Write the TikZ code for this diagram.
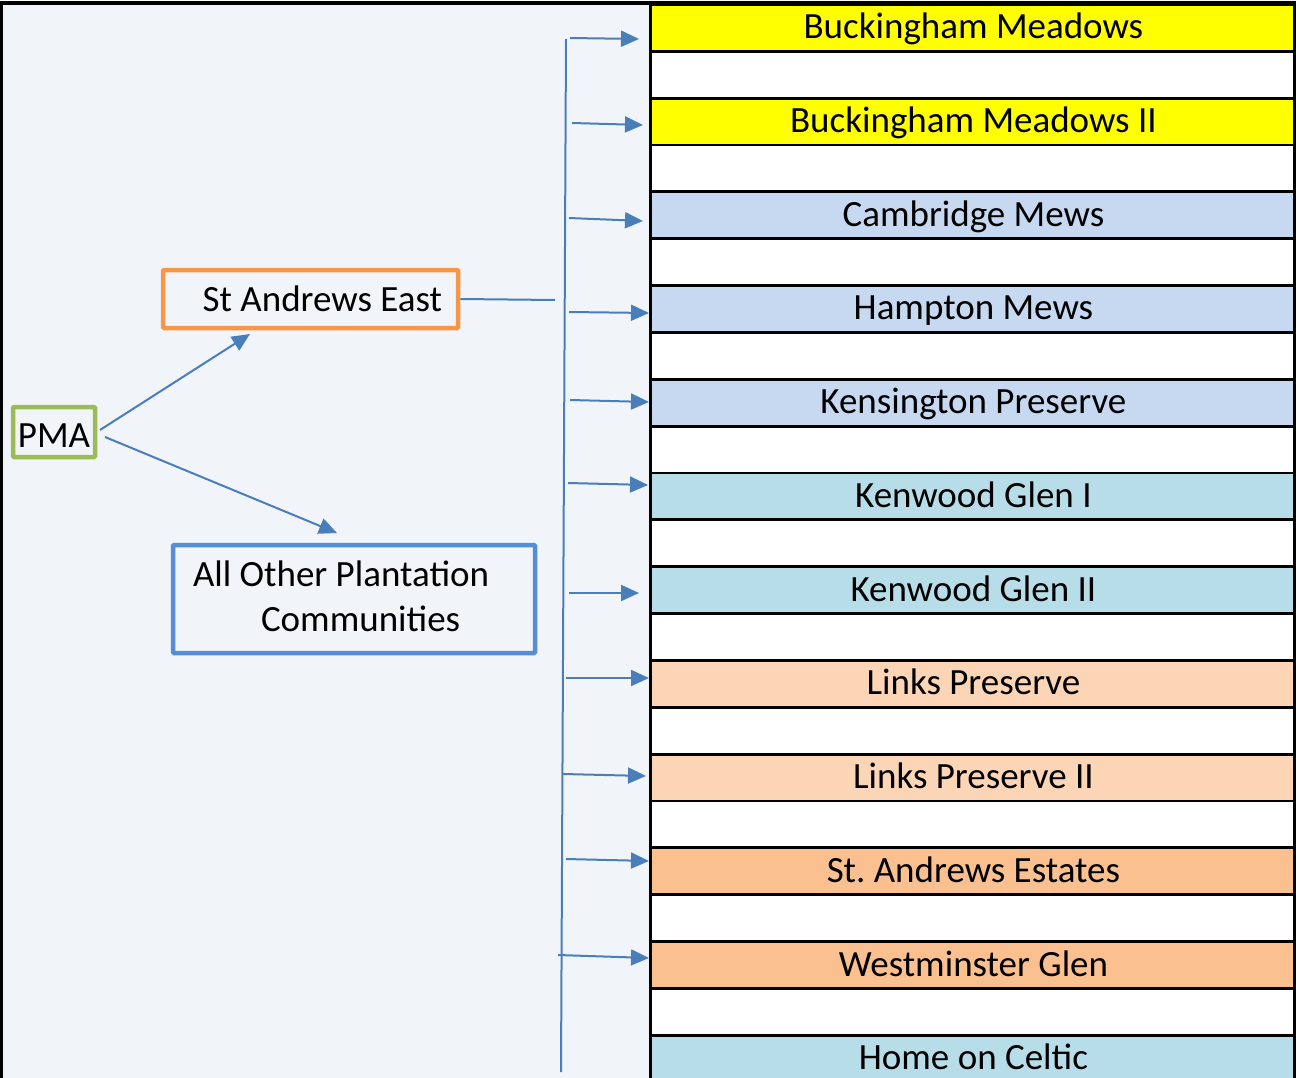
\documentclass[tikz,border=0pt]{standalone}
\usepackage{fontspec}
\setmainfont{Carlito}
\usetikzlibrary{arrows.meta,calc}
\definecolor{panelbg}{HTML}{F1F5FA}
\definecolor{arrowblue}{HTML}{4A7EBB}
\definecolor{cyel}{HTML}{FFFF00}
\definecolor{cblue}{HTML}{C6D9F1}
\definecolor{cteal}{HTML}{B7DEE8}
\definecolor{cpeach}{HTML}{FBD5B5}
\definecolor{corange}{HTML}{FAC090}
\definecolor{pmagreen}{HTML}{9BBB59}
\definecolor{saeorange}{HTML}{F79646}
\definecolor{aoblue}{HTML}{558ED5}
\frenchspacing
\begin{document}
\begin{tikzpicture}[x=1pt,y=-1pt,
  every node/.style={font=\fontsize{37}{45.7}\selectfont},
  rowbox/.style={draw=black,line width=2.8pt,minimum width=646pt,minimum height=46.86pt,inner sep=0pt,anchor=north west,text height=28pt,text depth=6pt},
  conn/.style={draw=arrowblue,line width=2pt},
  arr/.style={conn,-{Triangle[length=18pt,width=16pt]}},
  ]
\useasboundingbox (0,0) rectangle (1296,1078);
\begin{scope}
\clip (0,0) rectangle (1296,1078);
\fill[white] (0,0) rectangle (1296,1078);
\fill[panelbg] (1.5,3) rectangle (649,1090);
% table rows
\foreach \i/\c/\t in {
 1/cyel/Buckingham Meadows, 2/white/, 3/cyel/Buckingham Meadows II, 4/white/,
 5/cblue/Cambridge Mews, 6/white/, 7/cblue/Hampton Mews, 8/white/,
 9/cblue/Kensington Preserve, 10/white/, 11/cteal/Kenwood Glen I, 12/white/,
 13/cteal/Kenwood Glen II, 14/white/, 15/cpeach/Links Preserve, 16/white/,
 17/cpeach/Links Preserve II, 18/white/, 19/corange/St. Andrews Estates, 20/white/,
 21/corange/Westminster Glen, 22/white/, 23/cteal/Home on Celtic}{
  \node[rowbox,fill=\c] (r\i) at (649,{3+(\i-1)*46.86}) {\t};
}
\draw[black,line width=3.2pt] (1.5,3) rectangle (1295,1090);
\end{scope}
% left diagram
\node[draw=pmagreen,line width=4.5pt,rounded corners=1pt,minimum width=82pt,minimum height=50pt,inner sep=0pt,text height=34pt,text depth=3pt] (pma) at (54,432) {PMA};
\node[draw=saeorange,line width=4.5pt,rounded corners=1pt,minimum height=58pt,text width=263pt,align=flush right,inner xsep=16pt,inner ysep=0pt,text height=30pt,text depth=4.6pt] (sae) at (310.5,299) {St Andrews East};
\node[draw=aoblue,line width=4.5pt,rounded corners=1pt,minimum height=108pt,minimum width=362pt,inner xsep=20pt,inner ysep=0pt] (aop) at (354,599)
  {\raisebox{0pt}[10pt][36pt]{\parbox[t]{322pt}{\fontsize{37}{45.7}\selectfont All Other Plantation\\\hspace*{68pt}Communities}}};
\coordinate (p1) at (100,430);
\coordinate (p2) at (105,437);
\coordinate (sae_in) at (250,334);
\coordinate (aop_in) at (337,533);
\draw[arr] (p1) -- (sae_in);
\draw[arr] (p2) -- (aop_in);
\coordinate (saeout) at (555,300);
\draw[conn] (sae.east) -- (saeout);
\coordinate (vt) at (566,39);
\coordinate (vb) at (561,1072);
\draw[conn] (vt) -- (vb);
% arrows to rows
\foreach \k/\xa/\ya/\xb/\yb in {
 1/570/38/639/39, 2/572/123/643/125, 3/569/218/643/221, 4/569/312/649/313,
 5/570/400/649/402, 6/568/483/648/485, 7/569/593/639/593, 8/566/678/649/678,
 9/563/774/646/776, 10/566/859/649/861, 11/558/955/649/958}{
  \coordinate (s\k) at (\xa,\ya);
  \coordinate (e\k) at (\xb,\yb);
  \draw[arr] (s\k) -- (e\k);
}
\end{tikzpicture}
\end{document}
